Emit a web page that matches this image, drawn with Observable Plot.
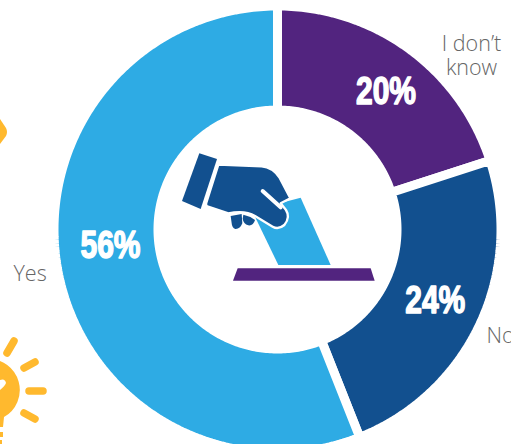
<!DOCTYPE html>
<html>
<head>
<meta charset="utf-8">
<style>
  html, body { margin: 0; padding: 0; background: #fff; overflow: hidden; }
</style>
<script src="https://cdn.jsdelivr.net/npm/d3@7"></script>
<script src="https://cdn.jsdelivr.net/npm/@observablehq/plot@0.6"></script>
</head>
<body>
<div id="chart"></div>
<script>
// Survey answers, clockwise from twelve o'clock.
const answers = ["I don’t know", "No", "Yes"];
const shares = [20, 24, 56];
const sliceColors = ["#52247f", "#12508f", "#2eabe4"];
const percentLabels = ["20%", "24%", "56%"];

const width = 511;
const height = 444;
const centerX = 277;
const centerY = 229;
const gap = 9;
const outerRadius = 219 + gap / 2;
const innerRadius = 124 - gap / 2;
const labelRadius = 171;

// Ring outline of each slice, in chart units around the donut's centre.
const pie = d3.pie().sort(null)(shares);
const polar = (angle, radius) => ({x: radius * Math.sin(angle), y: radius * Math.cos(angle)});
const outlines = pie.flatMap((slice, i) => {
  const steps = Math.ceil(shares[i] * 4);
  const angles = d3.range(steps + 1).map(k => slice.startAngle + (slice.endAngle - slice.startAngle) * k / steps);
  const ring = [
    ...angles.map(a => polar(a, outerRadius)),
    ...angles.slice().reverse().map(a => polar(a, innerRadius))
  ];
  return [...ring, ring[0]].map(p => ({...p, answer: answers[i]}));
});

// Percent labels sit near each slice's mid-angle, nudged by hand.
const labelNudge = [[8, 1], [3, -1], [1, -16]];
const percentMarks = pie.map((slice, i) => {
  const p = polar((slice.startAngle + slice.endAngle) / 2, labelRadius);
  return Plot.text([percentLabels[i]], {
    x: () => p.x, y: () => p.y,
    dx: labelNudge[i][0], dy: labelNudge[i][1],
    text: d => d,
    fill: "white", stroke: "white", strokeWidth: 1.5,
    fontFamily: "'Liberation Sans', sans-serif",
    fontWeight: 700, fontSize: 38
  });
});

// Answer captions placed around the outside of the ring.
const captions = [
  {text: "I don’t\nknow", x: 194, y: 174, anchor: "middle"},
  {text: "No", x: 209, y: -106, anchor: "start"},
  {text: "Yes", x: -264, y: -44, anchor: "start"}
];
const captionMarks = captions.map(c => Plot.text([c], {
  x: "x", y: "y", text: "text", textAnchor: c.anchor,
  lineHeight: 1.1,
  fill: "#666666",
  fontFamily: "'Open Sans', sans-serif",
  fontWeight: 300, fontSize: 21.5
}));

// Draws a group of SVG shapes anchored at a point of the chart's scales.
function shapes(originX, originY, scale, list) {
  return (index, {x, y}) => {
    const g = d3.create("svg:g")
      .attr("transform", `translate(${x(originX)},${y(originY)}) scale(${scale})`);
    for (const s of list) {
      const el = g.append("path").attr("d", s.d).attr("fill", s.fill || "none");
      if (s.stroke) {
        el.attr("stroke", s.stroke).attr("stroke-width", s.width)
          .attr("stroke-linecap", "round").attr("stroke-linejoin", "round");
      }
    }
    return g.node();
  };
}

const amber = "#ffb92e";

// Ballot icon in the donut hole.
const ballotIcon = shapes(160 - centerX, centerY - 130, 1 / 3, [
  {d: "M233,415 L632,415 L644,452 L219,452 Z", fill: "#52247f"},
  {d: "M350,222 L422,203 L512,405 L355,405 L285,260 Z", fill: "#2eabe4"},
  {d: "M118,70 L171,87 L122,237 L66,213 Z", fill: "#12508f"},
  {d: "M212,258 L245,252 L247,280 Q240,298 226,297 Q216,294 215,280 Z", fill: "#12508f"},
  {d: "M250,254 Q270,258 285,270 Q280,288 265,286 Q250,282 248,266 Z", fill: "#12508f"},
  {d: "M175,104 L305,109 Q338,112 358,142 L391,205 L362,220 L378,240 Q392,262 373,285 Q355,300 338,290 L285,258 Q255,240 205,250 L142,229 Q136,226 139,218 Z",
    fill: "#12508f", stroke: "#fff", width: 7},
  {d: "M308,183 L362,232", stroke: "#fff", width: 12}
]);

// Clipped decorations along the left edge.
const edgeArt = shapes(-centerX, centerY, 1, [
  {d: "M0,119 L6,128 Q8,132 6,136 L0,144 Z", fill: amber},
  {d: "M-12,359 A31,31 0 0 1 4,417 L3,427 L-12,427 Z", fill: amber},
  {d: "M0,432 H3 V437 H0 Z M0,440 H2 V444 H0 Z", fill: amber},
  {d: "M7,353 L14,341", stroke: amber, width: 7.5},
  {d: "M24,368 L35,362", stroke: amber, width: 7.5},
  {d: "M29,391 L43,391", stroke: amber, width: 7.5},
  {d: "M24,413 L35,419", stroke: amber, width: 7.5},
  {d: "M0,380 Q5,378 6,383 Q5,386 0,390 Z", fill: "#fff"}
]);

const chart = Plot.plot({
  width,
  height,
  margin: 0,
  style: {background: "white"},
  x: {domain: [-centerX, width - centerX], axis: null},
  y: {domain: [centerY - height, centerY], axis: null},
  color: {domain: answers, range: sliceColors},
  marks: [
    Plot.line(outlines, {x: "x", y: "y", z: "answer", fill: "answer", stroke: "white", strokeWidth: gap, strokeLinejoin: "miter"}),
    edgeArt,
    ballotIcon,
    ...percentMarks,
    ...captionMarks
  ]
});

// The percent figures are set in a tight, condensed block.
d3.select(chart).selectAll("text")
  .filter(function() { return this.textContent.endsWith("%"); })
  .attr("textLength", 60)
  .attr("lengthAdjust", "spacingAndGlyphs");

document.getElementById("chart").append(chart);
</script>
</body>
</html>
